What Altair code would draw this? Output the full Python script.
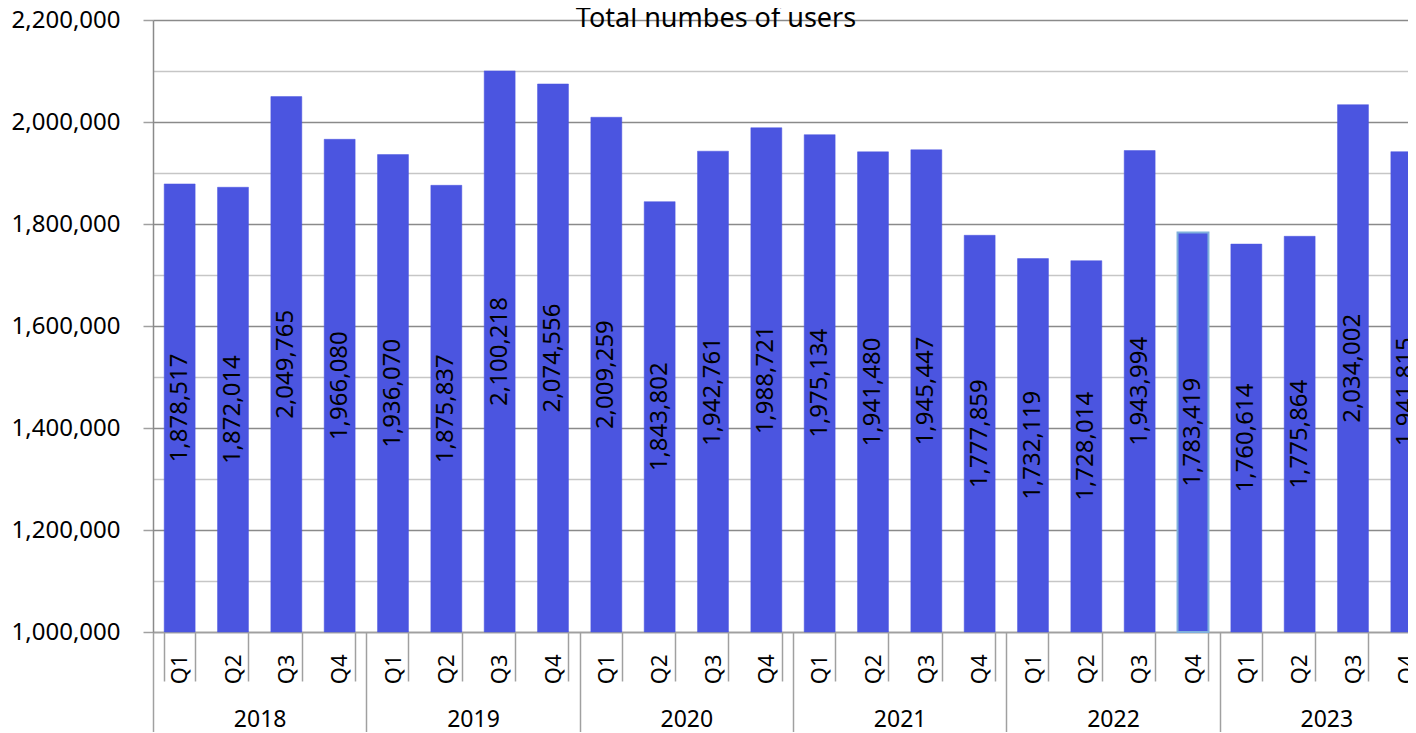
import altair as alt
import pandas as pd

years = ["2018", "2019", "2020", "2021", "2022", "2023"]
quarters = ["Q1", "Q2", "Q3", "Q4"]
users = [
    1878517, 1872014, 2049765, 1966080,
    1936070, 1875837, 2100218, 2074556,
    2009259, 1843802, 1942761, 1988721,
    1975134, 1941480, 1945447, 1777859,
    1732119, 1728014, 1943994, 1783419,
    1760614, 1775864, 2034002, 1941815,
]
y_ticks = list(range(1000000, 2200001, 100000))
y_base = 1000000
highlight_key = "2022 Q4"

rows = []
i = 0
for y in years:
    for q in quarters:
        rows.append({"year": y, "quarter": q, "key": f"{y} {q}", "value": users[i]})
        i += 1
df = pd.DataFrame(rows)
keys = list(df["key"])

FONT = "Noto Sans"
BAR = "#4b55e0"
GRID_MAJOR = "#8a8a8a"
GRID_MINOR = "#c6c6c6"
AX = "#a0a0a0"

xscale = alt.Scale(paddingInner=0.42, paddingOuter=0.21)
yscale = alt.Scale(domain=[1000000, 2200000], nice=False, zero=False)

base = alt.Chart(df)

bars = base.mark_bar(color=BAR).encode(
    x=alt.X("key:O", sort=keys, scale=xscale, title=None,
            axis=alt.Axis(orient="bottom", labelExpr="split(datum.value, ' ')[1]",
                          labelAngle=270, labelAlign="right", labelBaseline="middle",
                          labelPadding=-27, labelFontSize=22, labelFont=FONT,
                          labelColor="#000000", tickBand="extent", tickSize=49,
                          tickColor=AX, tickWidth=1.5, domainColor=AX, domainWidth=1.5,
                          grid=False)),
    y=alt.Y("value:Q", scale=yscale, title=None,
            axis=alt.Axis(values=y_ticks,
                          labelExpr="datum.value % 200000 === 0 ? format(datum.value, ',') : ''",
                          labelFontSize=24, labelFont=FONT, labelColor="#000000",
                          labelPadding=23, tickSize=10, tickWidth=1.5,
                          tickColor={"condition": {"test": "datum.value % 200000 === 0", "value": AX}, "value": "transparent"},
                          gridColor={"condition": {"test": "datum.value % 200000 === 0", "value": GRID_MAJOR}, "value": GRID_MINOR},
                          gridWidth=1.5, domainColor=GRID_MAJOR, domainWidth=1.5)),
    y2=alt.datum(y_base),
    stroke=alt.condition(alt.datum.key == highlight_key, alt.value("#7fb0dc"), alt.value(BAR)),
    strokeWidth=alt.condition(alt.datum.key == highlight_key, alt.value(2), alt.value(0.5)),
)

labels = base.transform_calculate(
    mid=f"(datum.value + {y_base}) / 2"
).mark_text(angle=270, align="center", baseline="middle", font=FONT, fontSize=24,
            color="#000000").encode(
    x=alt.X("key:O", sort=keys, scale=xscale, title=None),
    y=alt.Y("mid:Q", scale=yscale, title=None),
    text=alt.Text("value:Q", format=","),
)

year_layer = base.mark_tick(opacity=0).encode(
    x=alt.X("year:O", sort=years, scale=alt.Scale(paddingInner=0, paddingOuter=0), title=None,
            axis=alt.Axis(orient="bottom", labelAngle=0, labelAlign="center",
                          labelBaseline="middle", labelPadding=-14, labelFontSize=23,
                          labelFont=FONT, labelColor="#000000", tickBand="extent",
                          tickSize=101, tickColor=AX, tickWidth=1.5, domain=False,
                          grid=False)),
    y=alt.Y("value:Q", scale=yscale, title=None),
)

chart = alt.layer(alt.layer(bars, labels), year_layer).resolve_scale(
    x="independent"
).properties(
    width=1280,
    height=612,
    title=alt.TitleParams("Total numbes of users", font=FONT, fontSize=27,
                          fontWeight="normal", color="#000000", anchor="middle",
                          dx=-77, dy=46, offset=0, baseline="alphabetic"),
    autosize=alt.AutoSizeParams(type="none"),
    padding={"left": 145, "top": 12, "right": -25, "bottom": 100},
).configure_view(stroke=None)

chart.save("out.html", embed_options={"renderer": "svg", "actions": False})
